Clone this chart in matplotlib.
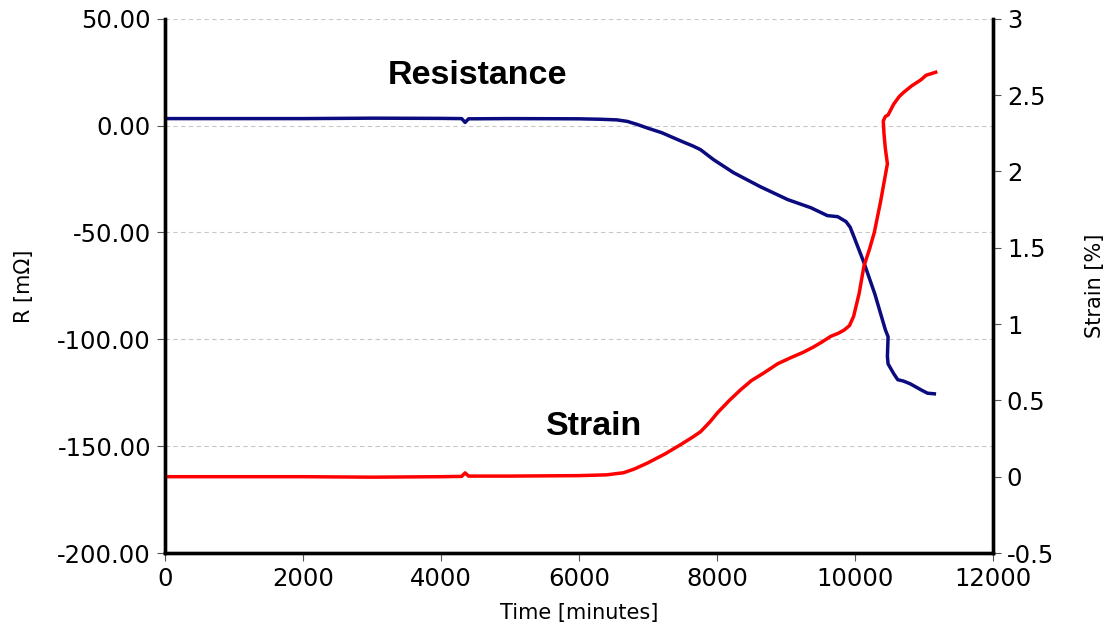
import matplotlib.pyplot as plt

# Resistance curve (time in minutes, R in mOhm)
r_time = [0, 1000, 2000, 3000, 4000, 4300, 4350, 4400, 5000, 6000, 6300,
          6550, 6700, 6850, 7000, 7200, 7500, 7650, 7760, 7950, 8240, 8630,
          9025, 9360, 9600, 9750, 9870, 9930, 9985, 10130, 10290, 10440, 10480,
          10470, 10480, 10560, 10620, 10700, 10800, 10955, 11050, 11150]
r_vals = [3.3, 3.3, 3.3, 3.5, 3.4, 3.3, 1.5, 3.2, 3.3, 3.2, 3.0,
          2.7, 2.0, 0.5, -1.2, -3.3, -7.5, -9.5, -11.2, -15.9, -22.0, -28.6,
          -34.6, -38.4, -42.1, -42.6, -44.9, -47.5, -52.0, -64.1, -79.0, -95.5, -98.8,
          -108.0, -111.5, -116.0, -118.9, -119.5, -120.8, -123.6, -125.2, -125.5]

# Strain curve (time in minutes, strain in %)
s_time = [0, 1000, 2000, 3000, 4000, 4300, 4350, 4400, 5000, 6000, 6400,
          6646, 6800, 6995, 7250, 7473, 7650, 7763, 7900, 8010, 8180, 8344,
          8500, 8680, 8880, 9070, 9250, 9400, 9530, 9650, 9760, 9840, 9920,
          9980, 10060, 10130, 10210, 10280, 10370, 10450, 10470, 10440, 10420,
          10410, 10440, 10480, 10560, 10640, 10710, 10820, 10955, 11030, 11170]
s_vals = [0.0, 0.0, 0.0, -0.003, 0.0, 0.002, 0.025, 0.004, 0.004, 0.007, 0.012,
          0.026, 0.05, 0.09, 0.15, 0.21, 0.26, 0.295, 0.36, 0.42, 0.50, 0.57,
          0.63, 0.68, 0.74, 0.78, 0.815, 0.85, 0.885, 0.92, 0.94, 0.96, 0.99,
          1.05, 1.20, 1.38, 1.49, 1.60, 1.80, 2.00, 2.05, 2.15, 2.25,
          2.33, 2.36, 2.37, 2.44, 2.49, 2.52, 2.56, 2.60, 2.63, 2.65]

r_ticks = [-200, -150, -100, -50, 0, 50]
s_ticks = [-0.5, 0, 0.5, 1, 1.5, 2, 2.5, 3]
x_ticks = [0, 2000, 4000, 6000, 8000, 10000, 12000]

fig = plt.figure(figsize=(11.07, 6.27), dpi=100)
ax = fig.add_axes([0.149, 0.118, 0.748, 0.852])
ax2 = ax.twinx()

ax.plot(r_time, r_vals, color="#0b0b80", linewidth=2.5, solid_joinstyle="round")
ax2.plot(s_time, s_vals, color="#ff0000", linewidth=2.5, solid_joinstyle="round")

ax.set_xlim(0, 12000)
ax.set_ylim(-200, 50)
ax2.set_ylim(-0.5, 3)
ax.set_xticks(x_ticks)
ax.set_yticks(r_ticks)
ax.set_yticklabels([f"{v:.2f}" for v in r_ticks])
ax2.set_yticks(s_ticks)
ax2.set_yticklabels([f"{v:g}" for v in s_ticks])

ax.grid(axis="y", linestyle=(0, (4, 3)), color="#c8c8c8", linewidth=0.8)
ax.set_axisbelow(True)

for a in (ax, ax2):
    a.spines["top"].set_visible(False)
    for s in ("left", "right", "bottom"):
        a.spines[s].set_linewidth(2.4)
        a.spines[s].set_color("black")
    a.tick_params(direction="out", length=6, width=0.8, color="#555555",
                  labelsize=17.5, pad=4)

ax.set_xlabel("Time [minutes]", fontsize=15, labelpad=9)
ax.set_ylabel("R [mΩ]", fontsize=15, labelpad=17)
ax2.set_ylabel("Strain [%]", fontsize=15, labelpad=22)

ax.text(4527, 23.4, "Resistance", fontsize=24.5, fontweight="bold",
        family="Liberation Sans", ha="center", va="center")
ax.text(6225, -141, "Strain", fontsize=24.5, fontweight="bold",
        family="Liberation Sans", ha="center", va="center")

fig.savefig("out.png", dpi=100)
